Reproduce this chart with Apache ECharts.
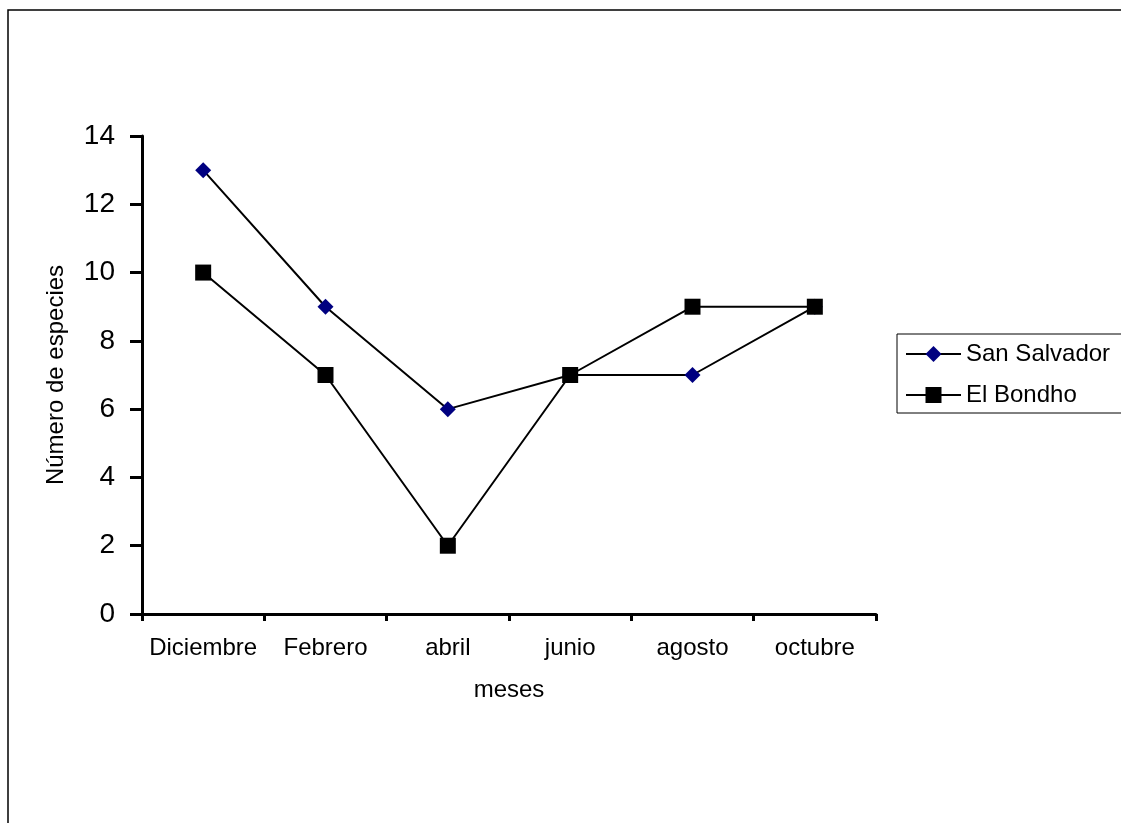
<!DOCTYPE html>
<html><head><meta charset="utf-8">
<script src="https://cdn.jsdelivr.net/npm/echarts@6/dist/echarts.min.js"></script>
<style>html,body{margin:0;padding:0;background:#fff}#c{width:1121px;height:823px}</style>
</head><body><div id="c"></div>
<script>
const categories = ["Diciembre", "Febrero", "abril", "junio", "agosto", "octubre"];
const sanSalvador = [13, 9, 6, 7, 7, 9];
const elBondho = [10, 7, 2, 7, 9, 9];
const yTicks = [0, 2, 4, 6, 8, 10, 12, 14];

const FONT = "'Liberation Sans', Arial, sans-serif";
const chart = echarts.init(document.getElementById('c'), null, {renderer: 'canvas'});
chart.setOption({
  backgroundColor: '#fff',
  animation: false,
  textStyle: {fontFamily: FONT, color: '#000'},
  graphic: [{
    type: 'rect', z: -1, silent: true,
    shape: {x: 8, y: 10, width: 1300, height: 1000},
    style: {fill: 'none', stroke: '#000', lineWidth: 1.5}
  }],
  grid: {left: 142, right: 245, top: 136, bottom: 209, containLabel: false},
  legend: {
    left: 897, top: 334,
    orient: 'vertical',
    data: ['San Salvador', 'El Bondho'],
    itemWidth: 55, itemHeight: 20, itemGap: 17,
    padding: [8, 40, 6, 8],
    borderColor: '#000', borderWidth: 1,
    textStyle: {fontFamily: FONT, fontSize: 24, color: '#000'}
  },
  xAxis: {
    type: 'category',
    data: categories,
    boundaryGap: true,
    name: 'meses', nameLocation: 'middle', nameGap: 64,
    nameTextStyle: {fontFamily: FONT, fontSize: 24, color: '#000'},
    axisLine: {lineStyle: {color: '#000', width: 3}},
    axisTick: {show: true, length: 7, lineStyle: {color: '#000', width: 3}},
    axisLabel: {fontFamily: FONT, fontSize: 24, color: '#000', margin: 22, interval: 0},
    splitLine: {show: false}
  },
  yAxis: {
    type: 'value',
    min: yTicks[0], max: yTicks[yTicks.length - 1], interval: 2,
    name: 'Número de especies', nameLocation: 'middle', nameGap: 74, nameRotate: 90,
    nameTextStyle: {fontFamily: FONT, fontSize: 24, color: '#000'},
    axisLine: {show: true, lineStyle: {color: '#000', width: 3}},
    axisTick: {show: true, length: 12, lineStyle: {color: '#000', width: 3}},
    axisLabel: {fontFamily: FONT, fontSize: 28, color: '#000', margin: 27},
    splitLine: {show: false}
  },
  series: [
    {
      name: 'San Salvador', type: 'line', data: sanSalvador, z: 2,
      symbol: 'diamond', symbolSize: 16,
      itemStyle: {color: '#000080'},
      lineStyle: {color: '#000', width: 2}
    },
    {
      name: 'El Bondho', type: 'line', data: elBondho, z: 3,
      symbol: 'rect', symbolSize: 16,
      itemStyle: {color: '#000'},
      lineStyle: {color: '#000', width: 2}
    }
  ]
});
</script></body></html>
